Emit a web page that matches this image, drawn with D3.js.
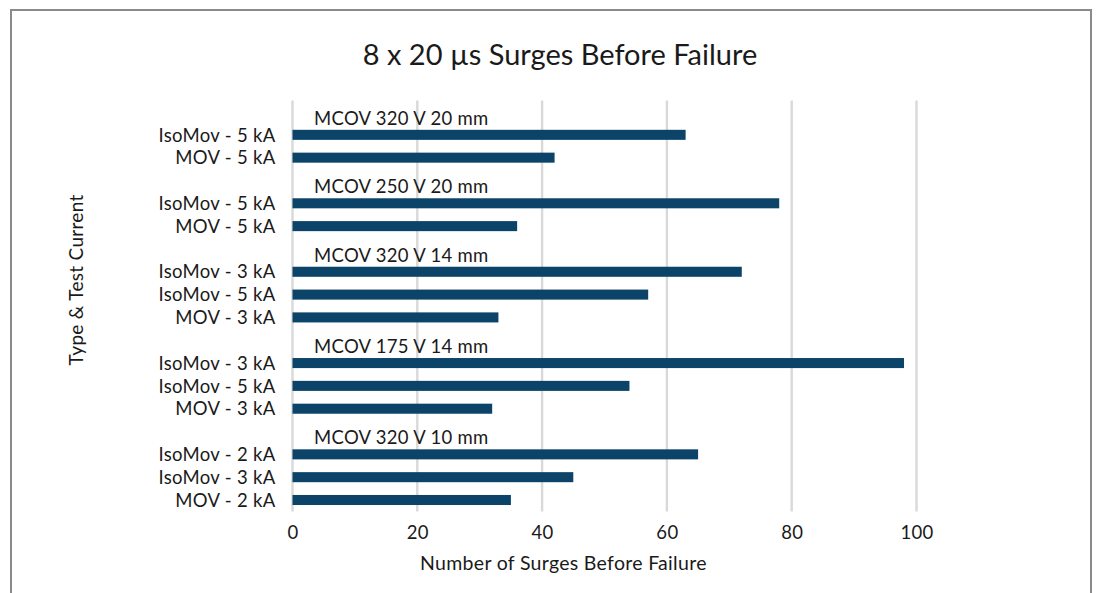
<!DOCTYPE html>
<html>
<head>
<meta charset="utf-8">
<script src="https://cdn.jsdelivr.net/npm/d3@7"></script>
<style>
  html, body { margin: 0; padding: 0; background: #fff; }
  svg { display: block; }
  text { font-family: Lato, "Open Sans", sans-serif; fill: #1a1a1a; }
</style>
</head>
<body>
<svg id="chart" width="1096" height="593"></svg>
<script>
const title = "8 x 20 µs Surges Before Failure";
const xTitle = "Number of Surges Before Failure";
const yTitle = "Type & Test Current";
const groups = ["MCOV 320 V 20 mm", "MCOV 250 V 20 mm", "MCOV 320 V 14 mm", "MCOV 175 V 14 mm", "MCOV 320 V 10 mm"];
const categories = [
  ["IsoMov - 5 kA", "MOV - 5 kA"],
  ["IsoMov - 5 kA", "MOV - 5 kA"],
  ["IsoMov - 3 kA", "IsoMov - 5 kA", "MOV - 3 kA"],
  ["IsoMov - 3 kA", "IsoMov - 5 kA", "MOV - 3 kA"],
  ["IsoMov - 2 kA", "IsoMov - 3 kA", "MOV - 2 kA"]
];
const values = [
  [63, 42],
  [78, 36],
  [72, 57, 33],
  [98, 54, 32],
  [65, 45, 35]
];
const xTicks = [0, 20, 40, 60, 80, 100];

// build rows: a header row per group followed by its bars
const rows = [];
groups.forEach((g, gi) => {
  rows.push({ id: "h" + gi, header: g, label: "" });
  categories[gi].forEach((c, ci) => {
    rows.push({ id: "r" + gi + "_" + ci, label: c, value: values[gi][ci] });
  });
});

const svg = d3.select("#chart");
const W = 1096, H = 593;
const margin = { left: 292.5, right: W - 916.5, top: 100.6, bottom: H - 511.4 };
const FS = 18.5;
const LS = "0.3px";
const FONT = 'Lato, "Open Sans", sans-serif';

// outer frame
svg.append("rect")
  .attr("x", 11).attr("y", 10)
  .attr("width", 1080).attr("height", 620)
  .attr("fill", "none").attr("stroke", "#8a8a8a").attr("stroke-width", 2);

const x = d3.scaleLinear().domain([0, 100]).range([margin.left, W - margin.right]);
const y = d3.scaleBand().domain(rows.map(d => d.id)).range([margin.top, H - margin.bottom]).paddingInner(0.56).paddingOuter(0.28);

// gridlines
svg.append("g")
  .selectAll("line").data(xTicks).join("line")
  .attr("x1", d => x(d)).attr("x2", d => x(d))
  .attr("y1", margin.top).attr("y2", H - margin.bottom)
  .attr("stroke", "#d9d9d9").attr("stroke-width", 2.4);

// bars
svg.append("g")
  .selectAll("rect").data(rows.filter(d => d.value != null)).join("rect")
  .attr("x", x(0))
  .attr("y", d => y(d.id))
  .attr("width", d => x(d.value) - x(0))
  .attr("height", y.bandwidth())
  .attr("fill", "#0b4468");

// group header labels
svg.append("g")
  .selectAll("text").data(rows.filter(d => d.header)).join("text")
  .attr("x", x(0) + 21.5)
  .attr("y", d => y(d.id) + y.bandwidth() / 2 + 12.8)
  .attr("font-size", FS)
  .style("letter-spacing", LS)
  .text(d => d.header);

// y axis
const yAxis = d3.axisLeft(y).tickSize(0).tickPadding(17)
  .tickFormat(id => rows.find(r => r.id === id).label);
const gy = svg.append("g").attr("transform", `translate(${x(0)},0)`).call(yAxis);
gy.select(".domain").remove();
gy.selectAll("text").attr("font-size", FS).attr("fill", "#1a1a1a").attr("dy", "0.36em")
  .style("font-family", FONT).style("letter-spacing", LS);

// x axis
const xAxis = d3.axisBottom(x).tickValues(xTicks).tickSize(0).tickPadding(14);
const gx = svg.append("g").attr("transform", `translate(0,${H - margin.bottom})`).call(xAxis);
gx.select(".domain").remove();
gx.selectAll("text").attr("font-size", FS).attr("fill", "#1a1a1a")
  .style("font-family", FONT).style("letter-spacing", LS);

// title
svg.append("text").attr("x", 560).attr("y", 64.5).attr("text-anchor", "middle")
  .attr("font-size", 29).text(title);

// x axis title
svg.append("text").attr("x", 563.4).attr("y", 570).attr("text-anchor", "middle")
  .attr("font-size", 19.5).style("letter-spacing", LS).text(xTitle);

// y axis title
svg.append("text").attr("transform", "translate(83,280) rotate(-90)").attr("text-anchor", "middle")
  .attr("font-size", 19).style("letter-spacing", LS).text(yTitle);
</script>
</body>
</html>
